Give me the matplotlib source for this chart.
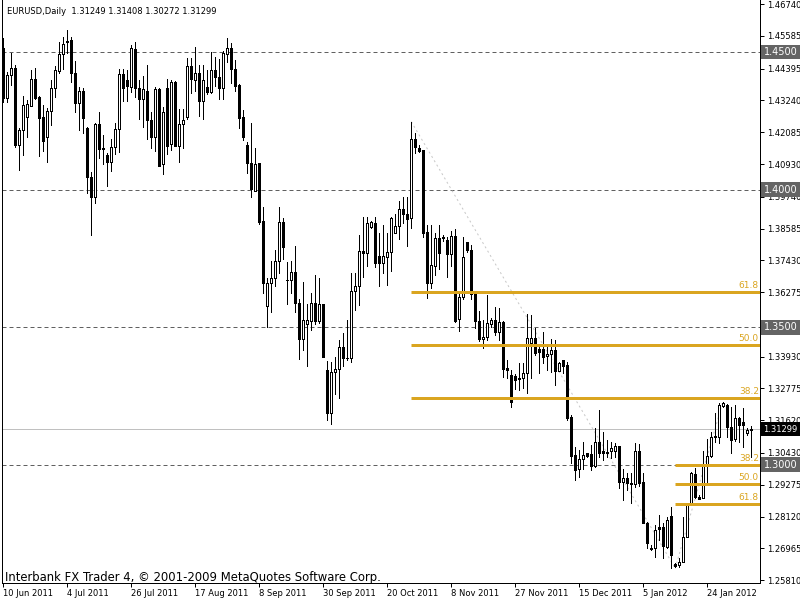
import matplotlib
matplotlib.use("Agg")
import matplotlib.pyplot as plt
import matplotlib.transforms as mtrans
import numpy as np

# ---------------- data (EURUSD daily) ----------------
opens = [1.4513, 1.4332, 1.4417, 1.4441, 1.4162, 1.4217, 1.4265, 1.4305, 1.4401, 1.4335,
         1.4263, 1.4190, 1.4287, 1.4368, 1.4432, 1.4493, 1.4538, 1.4544, 1.4423, 1.4314,
         1.4358, 1.4225, 1.4047, 1.3972, 1.4238, 1.4152, 1.4126, 1.4102, 1.4154, 1.4220,
         1.4420, 1.4398, 1.4374, 1.4511, 1.4368, 1.4328, 1.4358, 1.4253, 1.4190, 1.4366,
         1.4092, 1.4368, 1.4165, 1.4390, 1.4160, 1.4237, 1.4265, 1.4449, 1.4398, 1.4423,
         1.4323, 1.4372, 1.4356, 1.4435, 1.4408, 1.4370, 1.4493, 1.4513, 1.4437, 1.4380,
         1.4263, 1.4162, 1.4096, 1.3996, 1.4096, 1.3886, 1.3578, 1.3659, 1.3678, 1.3742,
         1.3881, 1.3673, 1.3672, 1.3699, 1.3587, 1.3457, 1.3512, 1.3524, 1.3587, 1.3524,
         1.3584, 1.3345, 1.3187, 1.3336, 1.3347, 1.3427, 1.3387, 1.3387, 1.3633, 1.3650,
         1.3778, 1.3771, 1.3865, 1.3878, 1.3759, 1.3735, 1.3756, 1.3775, 1.3841, 1.3869,
         1.3930, 1.3910, 1.3896, 1.4183, 1.4150, 1.4144, 1.3845, 1.3659, 1.3724, 1.3823,
         1.3829, 1.3817, 1.3765, 1.3831, 1.3529, 1.3609, 1.3808, 1.3781, 1.3626, 1.3524,
         1.3456, 1.3466, 1.3512, 1.3526, 1.3484, 1.3520, 1.3351, 1.3326, 1.3323, 1.3312,
         1.3314, 1.3332, 1.3441, 1.3460, 1.3420, 1.3420, 1.3395, 1.3403, 1.3417, 1.3342,
         1.3381, 1.3363, 1.3172, 1.3036, 1.2984, 1.3020, 1.3042, 1.3039, 1.2997, 1.3082,
         1.3051, 1.3048, 1.3051, 1.3051, 1.3070, 1.2939, 1.2951, 1.2935, 1.2930, 1.3051,
         1.2939, 1.2790, 1.2696, 1.2696, 1.2773, 1.2773, 1.2703, 1.2814, 1.2638, 1.2636,
         1.2648, 1.2739, 1.2854, 1.2967, 1.2884, 1.2881, 1.3003, 1.3032, 1.3100, 1.3102,
         1.3214, 1.3217, 1.3139, 1.3093, 1.3169, 1.3157, 1.3114, 1.31249]
highs = [1.4550, 1.4429, 1.4495, 1.4453, 1.4223, 1.4340, 1.4326, 1.4435, 1.4441, 1.4340,
         1.4307, 1.4295, 1.4398, 1.4449, 1.4538, 1.4556, 1.4580, 1.4553, 1.4467, 1.4374,
         1.4368, 1.4229, 1.4065, 1.4243, 1.4282, 1.4198, 1.4134, 1.4184, 1.4241, 1.4438,
         1.4437, 1.4435, 1.4526, 1.4535, 1.4398, 1.4413, 1.4453, 1.4281, 1.4374, 1.4368,
         1.4301, 1.4401, 1.4398, 1.4395, 1.4293, 1.4292, 1.4477, 1.4477, 1.4519, 1.4453,
         1.4453, 1.4435, 1.4499, 1.4481, 1.4473, 1.4505, 1.4550, 1.4534, 1.4471, 1.4383,
         1.4289, 1.4174, 1.4243, 1.4150, 1.4098, 1.3936, 1.3680, 1.3741, 1.3781, 1.3936,
         1.3896, 1.3738, 1.3741, 1.3796, 1.3601, 1.3666, 1.3584, 1.3626, 1.3690, 1.3678,
         1.3584, 1.3378, 1.3372, 1.3391, 1.3454, 1.3478, 1.3526, 1.3698, 1.3698, 1.3835,
         1.3899, 1.3899, 1.3887, 1.3899, 1.3841, 1.3871, 1.3844, 1.3902, 1.3910, 1.3960,
         1.3974, 1.3974, 1.4247, 1.4205, 1.4162, 1.4144, 1.3871, 1.3871, 1.3841, 1.3871,
         1.3835, 1.3827, 1.3850, 1.3856, 1.3625, 1.3829, 1.3811, 1.3799, 1.3629, 1.3560,
         1.3526, 1.3617, 1.3532, 1.3575, 1.3569, 1.3524, 1.3381, 1.3344, 1.3330, 1.3369,
         1.3369, 1.3548, 1.3544, 1.3496, 1.3429, 1.3484, 1.3429, 1.3456, 1.3454, 1.3375,
         1.3381, 1.3375, 1.3181, 1.3066, 1.3054, 1.3084, 1.3044, 1.3072, 1.3133, 1.3199,
         1.3120, 1.3090, 1.3084, 1.3078, 1.3070, 1.2984, 1.2969, 1.2971, 1.3078, 1.3076,
         1.2969, 1.2793, 1.2709, 1.2781, 1.2818, 1.2787, 1.2812, 1.2848, 1.2642, 1.2660,
         1.2812, 1.2858, 1.2975, 1.2987, 1.2890, 1.3051, 1.3093, 1.3120, 1.3187, 1.3223,
         1.3229, 1.3220, 1.3211, 1.3217, 1.3175, 1.3205, 1.3133, 1.31408]
lows = [1.4320, 1.4320, 1.4380, 1.4156, 1.4071, 1.4126, 1.4190, 1.4305, 1.4329, 1.4122,
        1.4142, 1.4102, 1.4235, 1.4338, 1.4425, 1.4437, 1.4495, 1.4392, 1.4283, 1.4217,
        1.4205, 1.3987, 1.3835, 1.3950, 1.4114, 1.4092, 1.4014, 1.4069, 1.4129, 1.4138,
        1.4323, 1.4323, 1.4356, 1.4338, 1.4255, 1.4229, 1.4183, 1.4150, 1.4142, 1.4087,
        1.4056, 1.4128, 1.4144, 1.4160, 1.4102, 1.4150, 1.4257, 1.4352, 1.4358, 1.4268,
        1.4257, 1.4346, 1.4352, 1.4378, 1.4328, 1.4328, 1.4465, 1.4386, 1.4360, 1.4225,
        1.4180, 1.4059, 1.3972, 1.3996, 1.3875, 1.3626, 1.3502, 1.3557, 1.3650, 1.3698,
        1.3747, 1.3584, 1.3626, 1.3557, 1.3383, 1.3417, 1.3360, 1.3490, 1.3512, 1.3517,
        1.3393, 1.3163, 1.3147, 1.3257, 1.3242, 1.3360, 1.3381, 1.3375, 1.3563, 1.3581,
        1.3684, 1.3724, 1.3862, 1.3720, 1.3651, 1.3698, 1.3653, 1.3706, 1.3841, 1.3821,
        1.3878, 1.3796, 1.3859, 1.4132, 1.4138, 1.3827, 1.3607, 1.3641, 1.3690, 1.3712,
        1.3815, 1.3681, 1.3724, 1.3520, 1.3486, 1.3603, 1.3775, 1.3603, 1.3496, 1.3451,
        1.3423, 1.3454, 1.3500, 1.3472, 1.3454, 1.3320, 1.3314, 1.3211, 1.3274, 1.3272,
        1.3278, 1.3260, 1.3314, 1.3399, 1.3332, 1.3369, 1.3344, 1.3338, 1.3290, 1.3342,
        1.3332, 1.3163, 1.3008, 1.2945, 1.2957, 1.2984, 1.3030, 1.2981, 1.2993, 1.3030,
        1.3017, 1.3030, 1.3024, 1.3030, 1.2915, 1.2872, 1.2908, 1.2860, 1.2921, 1.2923,
        1.2787, 1.2697, 1.2690, 1.2666, 1.2727, 1.2660, 1.2697, 1.2624, 1.2630, 1.2630,
        1.2648, 1.2736, 1.2854, 1.2878, 1.2875, 1.2878, 1.2933, 1.3030, 1.3084, 1.3078,
        1.3211, 1.3102, 1.3042, 1.3088, 1.3084, 1.3066, 1.3108, 1.30272]
closes = [1.4332, 1.4417, 1.4441, 1.4162, 1.4217, 1.4307, 1.4311, 1.4401, 1.4334, 1.4261,
          1.4178, 1.4287, 1.4368, 1.4435, 1.4493, 1.4529, 1.4539, 1.4423, 1.4316, 1.4358,
          1.4259, 1.4047, 1.3972, 1.4238, 1.4146, 1.4146, 1.4102, 1.4154, 1.4220, 1.4420,
          1.4368, 1.4377, 1.4513, 1.4368, 1.4328, 1.4366, 1.4253, 1.4190, 1.4366, 1.4087,
          1.4283, 1.4160, 1.4392, 1.4160, 1.4238, 1.4253, 1.4449, 1.4401, 1.4423, 1.4323,
          1.4398, 1.4356, 1.4435, 1.4408, 1.4370, 1.4495, 1.4513, 1.4437, 1.4378, 1.4259,
          1.4192, 1.4096, 1.4001, 1.4092, 1.3884, 1.3662, 1.3659, 1.3678, 1.3741, 1.3881,
          1.3793, 1.3671, 1.3699, 1.3587, 1.3457, 1.3526, 1.3526, 1.3587, 1.3524, 1.3584,
          1.3393, 1.3187, 1.3336, 1.3347, 1.3427, 1.3387, 1.3388, 1.3633, 1.3650, 1.3778,
          1.3771, 1.3878, 1.3884, 1.3735, 1.3735, 1.3759, 1.3775, 1.3898, 1.3869, 1.3930,
          1.3910, 1.3893, 1.4183, 1.4156, 1.4142, 1.3844, 1.3662, 1.3726, 1.3823, 1.3768,
          1.3823, 1.3765, 1.3831, 1.3523, 1.3609, 1.3754, 1.3781, 1.3621, 1.3524, 1.3456,
          1.3466, 1.3514, 1.3526, 1.3484, 1.3520, 1.3347, 1.3345, 1.3229, 1.3308, 1.3317,
          1.3332, 1.3460, 1.3460, 1.3405, 1.3411, 1.3393, 1.3403, 1.3417, 1.3342, 1.3369,
          1.3360, 1.3169, 1.3033, 1.2981, 1.3020, 1.3036, 1.3032, 1.2997, 1.3082, 1.3044,
          1.3044, 1.3042, 1.3062, 1.3070, 1.2939, 1.2951, 1.2935, 1.2929, 1.3051, 1.2935,
          1.2790, 1.2715, 1.2694, 1.2763, 1.2766, 1.2705, 1.2799, 1.2672, 1.2634, 1.2648,
          1.2739, 1.2854, 1.2969, 1.2882, 1.2877, 1.3003, 1.3032, 1.3102, 1.3105, 1.3217,
          1.3223, 1.3139, 1.3090, 1.3169, 1.3145, 1.3145, 1.3126, 1.31299]

date_labels = ["10 Jun 2011", "4 Jul 2011", "26 Jul 2011", "17 Aug 2011", "8 Sep 2011",
               "30 Sep 2011", "20 Oct 2011", "8 Nov 2011", "27 Nov 2011", "15 Dec 2011",
               "5 Jan 2012", "24 Jan 2012"]
label_every = 16

price_ticks = [1.46740, 1.45585, 1.44395, 1.43240, 1.42085, 1.40930, 1.39740, 1.38585,
               1.37430, 1.36275, 1.35120, 1.33930, 1.32775, 1.31620, 1.30430, 1.29275,
               1.28120, 1.26965, 1.25810]

round_levels = [1.4500, 1.4000, 1.3500, 1.3000]
last_price = 1.31299

fib_ratios = [38.2, 50.0, 61.8]
# (bar of point 1, price 1, bar of point 2, price 2)
fib_anchors = [(102, 1.4247, 168, 1.2624), (168, 1.2624, 180, 1.3234)]

header = "EURUSD,Daily  1.31249 1.31408 1.30272 1.31299"
footer = "Interbank FX Trader 4, \u00a9 2001-2009 MetaQuotes Software Corp."

# ---------------- figure ----------------
plt.rcParams['font.family'] = ['DejaVu Sans']
W, H = 800, 600
PX = 72.0 / 100.0   # one pixel in points
fig = plt.figure(figsize=(8, 6), dpi=100)
fig.patch.set_facecolor('white')
ax = fig.add_axes([2 / W, 17 / H, 758 / W, 583 / H])

o = np.array(opens); h = np.array(highs); l = np.array(lows); c = np.array(closes)
n = len(o)
x = np.arange(n)

xmin, xmax = -0.33, 189.2
ax.set_xlim(xmin, xmax)
ax.set_ylim(1.25705, 1.46890)

# round-number dashed levels and last price line
for lev in round_levels:
    ax.axhline(lev, color='#606060', lw=PX, ls=(0, (4, 3)), zorder=1)
ax.axhline(last_price, color='#C0C0C0', lw=PX, zorder=1)

# fibonacci trend lines (dotted)
for (b1, p1, b2, p2) in fib_anchors:
    ax.plot([b1, b2], [p1, p2], color='#C8C8C8', lw=PX, ls=(0, (2, 3)), zorder=2)

# candles
ax.vlines(x, l, h, color='black', lw=PX, zorder=3, antialiased=False)
bull = c >= o
bottom = np.minimum(o, c)
height = np.abs(c - o)
ax.bar(x[bull], height[bull], bottom=bottom[bull], width=0.5, color='white',
       edgecolor='black', linewidth=PX, zorder=4, antialiased=False)
ax.bar(x[~bull], height[~bull], bottom=bottom[~bull], width=0.5, color='black',
       edgecolor='black', linewidth=PX, zorder=4, antialiased=False)

# fibonacci levels
fib_color = '#DAA520'
for (b1, p1, b2, p2) in fib_anchors:
    start = min(b1, b2)
    for r in fib_ratios:
        lev = p2 + (p1 - p2) * r / 100.0
        ax.hlines(lev, start, xmax, color=fib_color, lw=3 * PX, zorder=5)
        ax.text(xmax - 0.3, lev + 0.0007, f"{r:.1f}", ha='right', va='bottom',
                color=fib_color, fontsize=6.5, zorder=6)

# axes styling
for s in ['left', 'right', 'bottom']:
    ax.spines[s].set_color('black')
    ax.spines[s].set_linewidth(PX)
ax.spines['top'].set_visible(False)

ax.yaxis.tick_right()
ax.set_yticks(price_ticks)
ax.set_yticklabels([f"{v:.5f}" for v in price_ticks])
ax.tick_params(axis='y', direction='out', length=3, width=PX, pad=2, labelsize=6,
               colors='black')

tick_pos = [i * label_every for i in range(len(date_labels))]
ax.set_xticks(tick_pos)
ax.set_xticklabels(date_labels)
ax.tick_params(axis='x', direction='out', length=3, width=PX, pad=1.5, labelsize=6,
               colors='black')
for tl in ax.get_xticklabels():
    tl.set_ha('left')

# price boxes on the right axis
btrans = mtrans.blended_transform_factory(ax.transAxes, ax.transData)
for lev in round_levels:
    ax.text(1 + 3.5 / 758, lev, f"{lev:.4f}", transform=btrans, ha='left', va='center',
            color='white', fontsize=7, clip_on=False, zorder=10,
            bbox=dict(boxstyle='square,pad=0.25', fc='#646464', ec='none'))
ax.text(1 + 3.5 / 758, last_price, f"{last_price:.5f}", transform=btrans, ha='left',
        va='center', color='white', fontsize=6, clip_on=False, zorder=10,
        bbox=dict(boxstyle='square,pad=0.3', fc='black', ec='none'))

# header and footer text
fig.text(7 / W, 1 - 14 / H, header, fontsize=6, color='black', va='baseline')
fig.text(5 / W, 1 - 580.5 / H, footer, fontsize=8.4, color='black', va='baseline')

fig.savefig('out.png', dpi=100, facecolor='white')
